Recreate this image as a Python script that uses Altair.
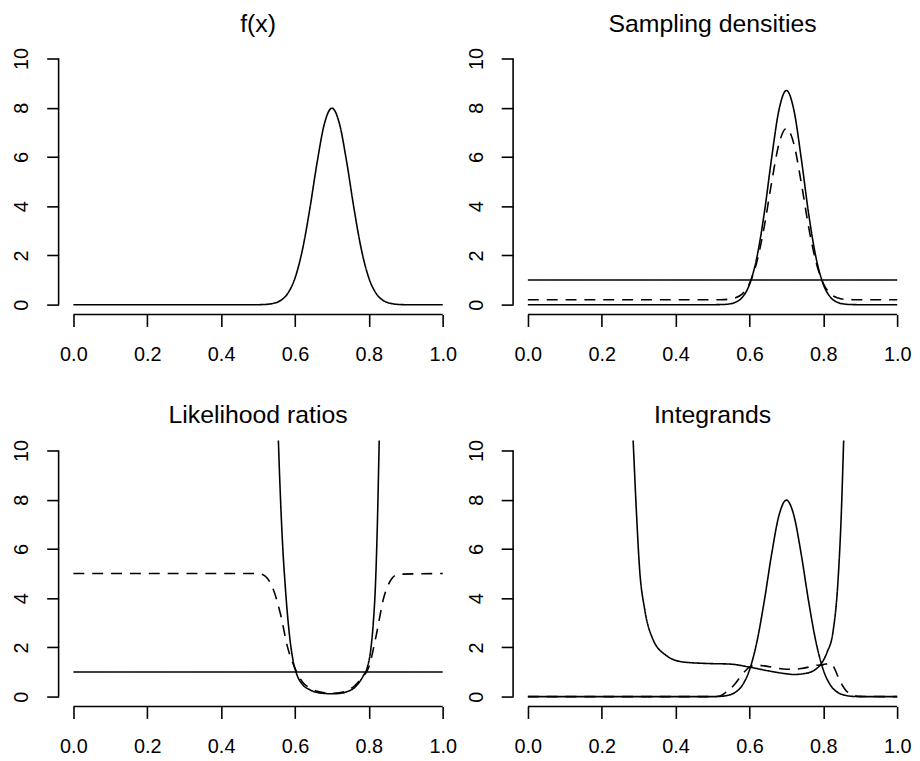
import altair as alt
import pandas as pd

# ---------------- data ----------------
# panel 1: f(x)
f_x = [0.0, 0.40, 0.50, 0.52, 0.54, 0.56, 0.58, 0.60, 0.62, 0.64, 0.66, 0.68, 0.70,
       0.72, 0.74, 0.76, 0.78, 0.80, 0.82, 0.84, 0.86, 0.88, 0.90, 1.0]
f_y = [0.0, 0.0, 0.00, 0.01, 0.05, 0.16, 0.45, 1.08, 2.22, 3.88, 5.79, 7.37, 7.98,
       7.37, 5.79, 3.88, 2.22, 1.08, 0.45, 0.16, 0.05, 0.01, 0.00, 0.0]

# panel 2: sampling densities
unif_x = [0.0, 1.0]
unif_y = [1.0, 1.0]
g_x = f_x
g_y = [0.0, 0.0, 0.00, 0.004, 0.02, 0.085, 0.29, 0.82, 1.92, 3.71, 5.96, 7.92, 8.70,
       7.92, 5.96, 3.71, 1.92, 0.82, 0.29, 0.085, 0.02, 0.004, 0.00, 0.0]
mix_x = f_x
mix_y = [0.20, 0.20, 0.20, 0.203, 0.216, 0.27, 0.43, 0.86, 1.74, 3.17, 4.97, 6.54, 7.16,
         6.54, 4.97, 3.17, 1.74, 0.86, 0.43, 0.27, 0.216, 0.203, 0.20, 0.20]

# panel 3: likelihood ratios
lr_unif_y = [1.0, 1.0]
lr_g_x = [0.548, 0.555, 0.565, 0.575, 0.585, 0.595, 0.605, 0.62, 0.64, 0.66, 0.68, 0.70,
          0.72, 0.74, 0.76, 0.775, 0.785, 0.795, 0.805, 0.812, 0.818, 0.823, 0.828, 0.833]
lr_g_y = [14.0, 10.4, 6.6, 4.2, 2.5, 1.45, 0.9, 0.5, 0.28, 0.17, 0.13, 0.115,
          0.13, 0.2, 0.35, 0.6, 0.85, 1.15, 1.9, 3.0, 4.6, 7.0, 10.4, 14.0]
lr_mix_x = [0.0, 0.50, 0.52, 0.54, 0.56, 0.58, 0.60, 0.62, 0.64, 0.66, 0.68, 0.70,
            0.72, 0.74, 0.76, 0.78, 0.80, 0.82, 0.84, 0.86, 0.88, 1.0]
lr_mix_y = [5.0, 5.0, 4.88, 4.4, 3.4, 2.0, 1.15, 0.6, 0.35, 0.22, 0.16, 0.14,
            0.16, 0.24, 0.42, 0.75, 1.2, 2.5, 4.0, 4.75, 4.97, 5.0]

# panel 4: integrands
int_g_x = [0.27, 0.285, 0.294, 0.3025, 0.316, 0.338, 0.374, 0.419, 0.48, 0.55, 0.60,
           0.65, 0.70, 0.72, 0.75, 0.78, 0.795, 0.81, 0.826, 0.84, 0.8487, 0.855, 0.865]
int_g_y = [15.0, 10.4, 7.47, 5.18, 3.57, 2.35, 1.68, 1.41, 1.35, 1.32, 1.2,
           1.05, 0.93, 0.90, 0.94, 1.12, 1.35, 1.8, 2.62, 4.78, 7.47, 10.4, 15.0]
int_mix_x = [0.0, 0.50, 0.52, 0.54, 0.56, 0.58, 0.60, 0.62, 0.64, 0.66, 0.68, 0.70,
             0.72, 0.74, 0.76, 0.78, 0.80, 0.82, 0.83, 0.84, 0.85, 0.86, 0.88, 0.90, 1.0]
int_mix_y = [0.0, 0.0, 0.03, 0.22, 0.5, 0.9, 1.2, 1.28, 1.25, 1.2, 1.14, 1.11,
             1.11, 1.14, 1.2, 1.27, 1.3, 1.35, 1.15, 0.8, 0.5, 0.27, 0.07, 0.01, 0.0]

x_ticks = [0.0, 0.2, 0.4, 0.6, 0.8, 1.0]
y_ticks = [0, 2, 4, 6, 8, 10]
titles = ["f(x)", "Sampling densities", "Likelihood ratios", "Integrands"]

# ---------------- styling ----------------
FONT = "Liberation Sans"
W, H = 402, 268
LW = 1.6


def frame(series):
    rows = []
    for i, (xs, ys, style) in enumerate(series):
        for xv, yv in zip(xs, ys):
            rows.append({"x": xv, "y": yv, "s": f"s{i}", "style": style})
    return pd.DataFrame(rows)


def panel(title, series):
    df = frame(series)
    xs = alt.Scale(domain=[-0.04, 1.04], nice=False, zero=False)
    ys = alt.Scale(domain=[-0.4, 10.4], nice=False, zero=False)
    xaxis = alt.Axis(values=x_ticks, format=".1f", domain=False, grid=False,
                     tickSize=12, tickWidth=LW, tickColor="black",
                     labelFontSize=20, labelFont=FONT, labelColor="black",
                     labelPadding=18, labelFlush=False, labelOverlap=False, title=None)
    yaxis = alt.Axis(values=y_ticks, format="d", domain=False, grid=False,
                     tickSize=12, tickWidth=LW, tickColor="black",
                     labelFontSize=20, labelFont=FONT, labelColor="black",
                     labelAngle=270, labelAlign="center", labelBaseline="bottom",
                     labelPadding=15, labelOverlap=False, title=None)
    lines = alt.Chart(df).mark_line(clip=True, interpolate="monotone",
                                    color="black", strokeWidth=LW).encode(
        x=alt.X("x:Q", scale=xs, axis=xaxis),
        y=alt.Y("y:Q", scale=ys, axis=yaxis),
        detail="s:N",
        strokeDash=alt.StrokeDash("style:N",
                                  scale=alt.Scale(domain=["solid", "dashed"],
                                                  range=[[1, 0], [11, 8]]),
                                  legend=None),
    )
    one = pd.DataFrame({"a": [0]})
    xdom = alt.Chart(one).mark_rule(color="black", strokeWidth=LW).encode(
        x=alt.datum(0.0), x2=alt.datum(1.0), y=alt.value(H))
    ydom = alt.Chart(one).mark_rule(color="black", strokeWidth=LW).encode(
        y=alt.datum(0.0), y2=alt.datum(10.0), x=alt.value(0))
    return alt.layer(lines, xdom, ydom).properties(
        width=W, height=H,
        title=alt.TitleParams(text=title, fontSize=25, fontWeight="normal", font=FONT,
                              color="black", anchor="middle", frame="group",
                              baseline="alphabetic", offset=-9),
    )


p1 = panel(titles[0], [(f_x, f_y, "solid")])
p2 = panel(titles[1], [(unif_x, unif_y, "solid"), (g_x, g_y, "solid"),
                       (mix_x, mix_y, "dashed")])
p3 = panel(titles[2], [(unif_x, lr_unif_y, "solid"), (lr_g_x, lr_g_y, "solid"),
                       (lr_mix_x, lr_mix_y, "dashed")])
p4 = panel(titles[3], [(f_x, f_y, "solid"), (int_g_x, int_g_y, "solid"),
                       (int_mix_x, int_mix_y, "dashed")])

chart = alt.concat(p1, p2, p3, p4, columns=2,
                   spacing={"row": 127, "column": 56}, bounds="flush").properties(
    padding={"left": 4, "top": 0, "right": 0, "bottom": 0},
    background="white",
).configure_view(stroke=None)

chart.save("out.html", embed_options={"renderer": "svg", "actions": False})
